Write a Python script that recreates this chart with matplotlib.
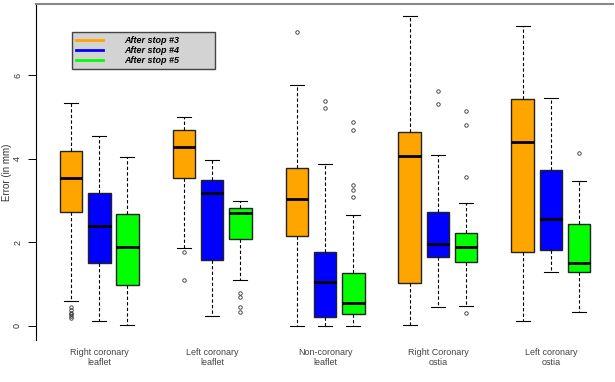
import matplotlib
matplotlib.use('Agg')
import matplotlib.pyplot as plt
from matplotlib.lines import Line2D

plt.rcParams['font.family'] = ['Liberation Sans', 'DejaVu Sans']

groups = ['Right coronary\nleaflet', 'Left coronary\nleaflet', 'Non-coronary\nleaflet',
          'Right Coronary\nostia', 'Left coronary\nostia']
steps = ['After stop #3', 'After stop #4', 'After stop #5']
colors = ['#FFA500', '#0000FF', '#00FF00']

# one list per step, one value per group
med = [[3.53, 4.29, 3.03, 4.07, 4.39],
       [2.38, 3.19, 1.05, 1.97, 2.57],
       [1.88, 2.71, 0.54, 1.88, 1.51]]
q1 = [[2.73, 3.53, 2.14, 1.02, 1.76],
      [1.50, 1.58, 0.22, 1.66, 1.82],
      [0.98, 2.07, 0.29, 1.52, 1.30]]
q3 = [[4.19, 4.69, 3.78, 4.65, 5.43],
      [3.19, 3.49, 1.76, 2.73, 3.72],
      [2.68, 2.82, 1.26, 2.23, 2.43]]
whislo = [[0.60, 1.87, 0.01, 0.02, 0.12],
          [0.12, 0.24, 0.00, 0.45, 1.28],
          [0.02, 1.10, 0.01, 0.48, 0.34]]
whishi = [[5.33, 4.99, 5.77, 7.42, 7.18],
          [4.55, 3.97, 3.87, 4.08, 5.45],
          [4.05, 3.00, 2.65, 2.94, 3.47]]
fliers = [[[0.45, 0.38, 0.32, 0.28, 0.24, 0.20], [1.78, 1.10], [7.03], [], []],
          [[], [], [5.39, 5.21], [5.63, 5.30], []],
          [[], [0.80, 0.70, 0.46, 0.33], [4.89, 4.69, 3.37, 3.25, 3.09],
           [5.13, 4.80, 3.57, 0.32], [4.13]]]

fig = plt.figure(figsize=(6.15, 3.82), dpi=100)
ax = fig.add_axes([0.0585, 0.110, 0.9382, 0.8795])

for k in range(3):
    stats = []
    for g in range(5):
        stats.append(dict(med=med[k][g], q1=q1[k][g], q3=q3[k][g],
                          whislo=whislo[k][g], whishi=whishi[k][g],
                          fliers=fliers[k][g]))
    pos = [4 * g + k + 1 for g in range(5)]
    ax.bxp(stats, positions=pos, widths=0.8, patch_artist=True,
           boxprops=dict(facecolor=colors[k], edgecolor='#222222', linewidth=1),
           medianprops=dict(color='black', linewidth=2),
           whiskerprops=dict(color='black', linestyle=(0, (3, 2)), linewidth=0.8),
           capprops=dict(color='black', linewidth=0.8),
           flierprops=dict(marker='o', markersize=2.5, markerfacecolor='none',
                           markeredgecolor='#333333', markeredgewidth=0.6),
           capwidths=0.5)

ax.set_xlim(-0.24, 20.2)
ax.set_ylim(-0.335, 7.7)
ax.set_xticks([4 * g + 2 for g in range(5)])
ax.set_xticklabels(groups, fontsize=6.5, color='#444444', linespacing=1.1)
ax.tick_params(axis='x', length=0, pad=6)
ax.set_yticks([0, 2, 4, 6])
ax.set_yticklabels(['0', '2', '4', '6'], rotation=90, va='center', fontsize=6.5, color='#333333')
ax.tick_params(axis='y', length=6, width=0.7, pad=4)
ax.set_ylabel('Error (in mm)', fontsize=7, color='#333333', labelpad=1)

ax.spines['right'].set_visible(False)
ax.spines['bottom'].set_visible(False)
ax.spines['top'].set_color('#888888')
ax.spines['top'].set_linewidth(1.5)
ax.spines['left'].set_linewidth(0.8)

handles = [Line2D([0], [0], color=c, linewidth=2) for c in colors]
leg = ax.legend(handles, steps, loc='upper left', bbox_to_anchor=(0.0624, 0.805, 0.248, 0.112),
                mode='expand', frameon=True, fancybox=False, fontsize=6.5, handlelength=3.0,
                borderpad=0.45, labelspacing=0.1, handletextpad=2.3, borderaxespad=0)
leg.get_frame().set_facecolor('#D3D3D3')
leg.get_frame().set_edgecolor('#444444')
leg.get_frame().set_linewidth(1)
leg.get_frame().set_alpha(1)
for t in leg.get_texts():
    t.set_fontweight('bold')
    t.set_fontstyle('italic')

fig.savefig('out.png', dpi=100)
